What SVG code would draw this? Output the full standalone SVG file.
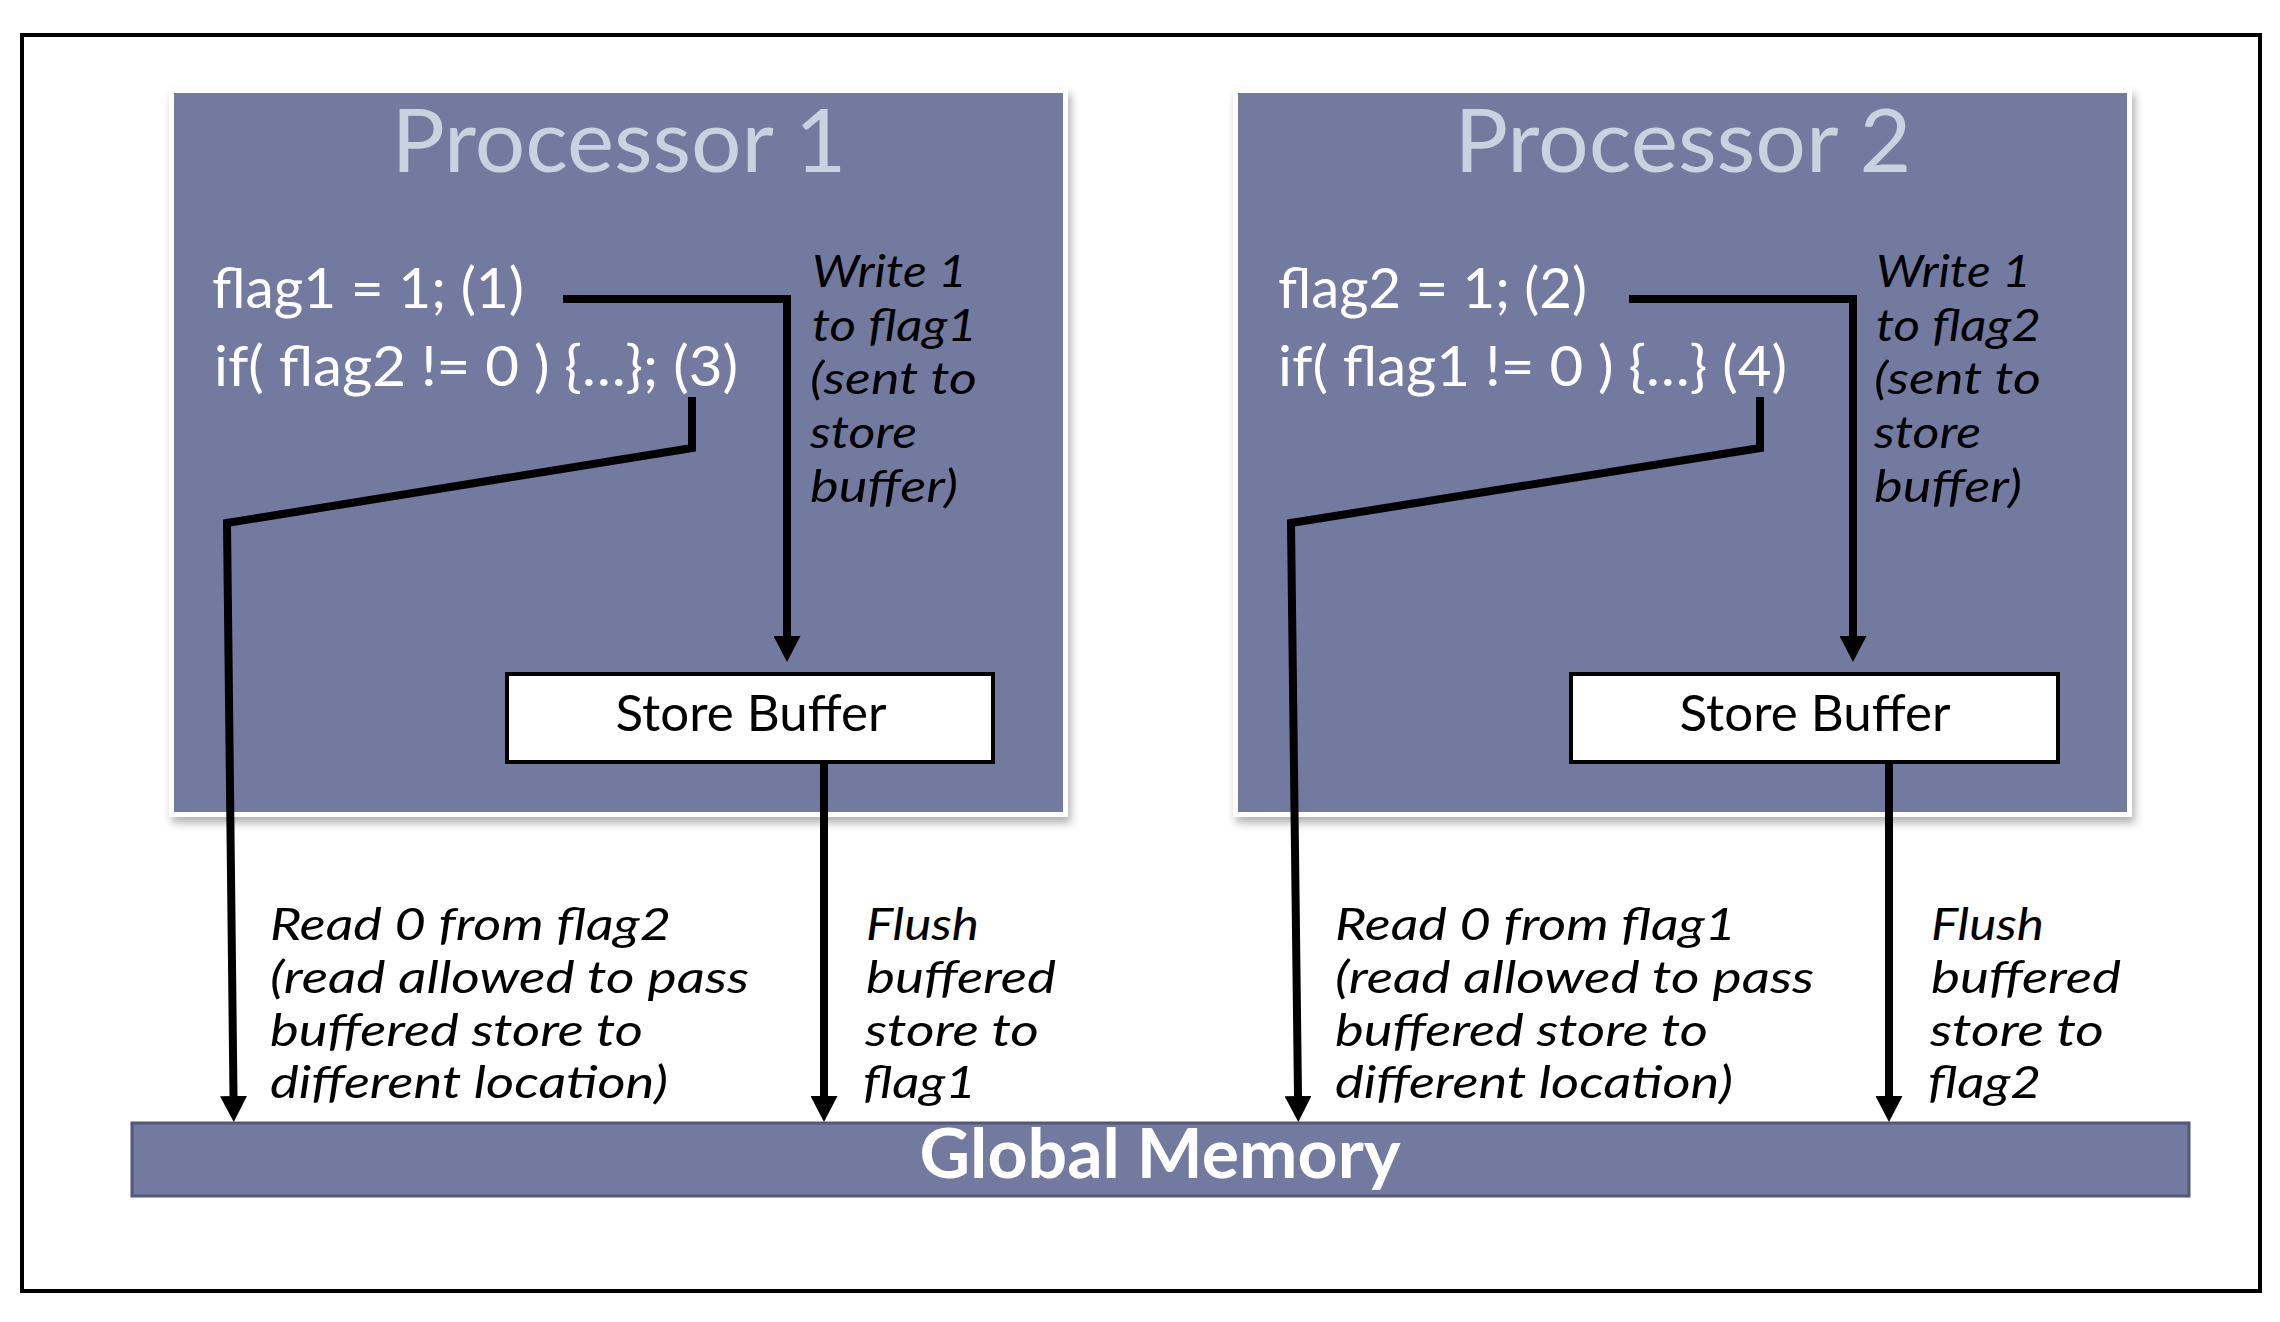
<svg xmlns="http://www.w3.org/2000/svg" width="2280" height="1322" viewBox="0 0 2280 1322">
<style>
.proc{fill:#727A9F;stroke:#ffffff;stroke-width:5}
.title{font-family:Lato,"Open Sans",sans-serif;font-size:87px;fill:#C9D3DF;text-anchor:middle}
.code{font-family:Lato,"Open Sans",sans-serif;font-size:57px;fill:#ffffff}
.sb{fill:#ffffff;stroke:#000000;stroke-width:4}
.sbt{font-family:Lato,"Open Sans",sans-serif;font-size:50px;fill:#000000;text-anchor:middle}
.lbl{font-family:Lato,"Open Sans",sans-serif;font-size:44px;font-style:italic;fill:#000000}
.mem{fill:#727A9F;stroke:#525878;stroke-width:3}
.memt{font-family:Lato,"Open Sans",sans-serif;font-size:69px;font-weight:bold;fill:#ffffff;text-anchor:middle}
.conn{fill:none;stroke:#000000;stroke-width:8;stroke-linejoin:miter;stroke-linecap:butt;marker-end:url(#ah)}
</style>
<defs>
<marker id="ah" viewBox="0 0 26 27" refX="0" refY="13.5" markerWidth="26" markerHeight="27" markerUnits="userSpaceOnUse" orient="auto">
<path d="M0,0 L26,13.5 L0,27 z" fill="#000000"/>
</marker>
<filter id="sh" x="-5%" y="-5%" width="110%" height="110%">
<feDropShadow dx="3" dy="6" stdDeviation="4" flood-color="#000000" flood-opacity="0.3"/>
</filter>
</defs>
<rect x="0" y="0" width="2280" height="1322" fill="#ffffff"/>
<rect id="frame" x="22" y="35" width="2238" height="1256" fill="none" stroke="#000000" stroke-width="4"/>

<g id="processor1">
<rect class="proc" x="171.5" y="90.5" width="894" height="724" filter="url(#sh)"/>
<text class="title" x="619" y="172" textLength="455" lengthAdjust="spacingAndGlyphs">Processor 1</text>
<text class="code" x="212" y="308" textLength="312" lengthAdjust="spacingAndGlyphs">flag1 = 1; (1)</text>
<text class="code" x="214" y="386" textLength="524" lengthAdjust="spacingAndGlyphs">if( flag2 != 0 ) {…}; (3)</text>
<text class="lbl" x="812" y="287" textLength="155" lengthAdjust="spacingAndGlyphs">Write 1</text>
<text class="lbl" x="812" y="341" textLength="165" lengthAdjust="spacingAndGlyphs">to flag1</text>
<text class="lbl" x="810" y="394" textLength="167" lengthAdjust="spacingAndGlyphs">(sent to</text>
<text class="lbl" x="810" y="448" textLength="107" lengthAdjust="spacingAndGlyphs">store</text>
<text class="lbl" x="810" y="502" textLength="148" lengthAdjust="spacingAndGlyphs">buffer)</text>
</g>
<g id="storebuffer1">
<rect class="sb" x="507" y="674" width="486" height="88"/>
<text class="sbt" x="751" y="731" textLength="271" lengthAdjust="spacingAndGlyphs">Store Buffer</text>
</g>

<g id="processor2">
<rect class="proc" x="1235.5" y="90.5" width="894" height="724" filter="url(#sh)"/>
<text class="title" x="1683" y="172" textLength="457" lengthAdjust="spacingAndGlyphs">Processor 2</text>
<text class="code" x="1278" y="308" textLength="309" lengthAdjust="spacingAndGlyphs">flag2 = 1; (2)</text>
<text class="code" x="1278" y="386" textLength="509" lengthAdjust="spacingAndGlyphs">if( flag1 != 0 ) {…} (4)</text>
<text class="lbl" x="1876" y="287" textLength="155" lengthAdjust="spacingAndGlyphs">Write 1</text>
<text class="lbl" x="1876" y="341" textLength="165" lengthAdjust="spacingAndGlyphs">to flag2</text>
<text class="lbl" x="1874" y="394" textLength="167" lengthAdjust="spacingAndGlyphs">(sent to</text>
<text class="lbl" x="1874" y="448" textLength="107" lengthAdjust="spacingAndGlyphs">store</text>
<text class="lbl" x="1874" y="502" textLength="148" lengthAdjust="spacingAndGlyphs">buffer)</text>
</g>
<g id="storebuffer2">
<rect class="sb" x="1571" y="674" width="487" height="88"/>
<text class="sbt" x="1815" y="731" textLength="271" lengthAdjust="spacingAndGlyphs">Store Buffer</text>
</g>

<g id="globalmemory">
<rect class="mem" x="132" y="1123" width="2057" height="73"/>
<text class="memt" x="1160" y="1178" textLength="481" lengthAdjust="spacingAndGlyphs">Global Memory</text>
</g>

<g id="labels">
<text class="lbl" x="270" y="940" textLength="401" lengthAdjust="spacingAndGlyphs">Read 0 from flag2</text>
<text class="lbl" x="270" y="993" textLength="479" lengthAdjust="spacingAndGlyphs">(read allowed to pass</text>
<text class="lbl" x="270" y="1046" textLength="373" lengthAdjust="spacingAndGlyphs">buffered store to</text>
<text class="lbl" x="270" y="1098" textLength="398" lengthAdjust="spacingAndGlyphs">different location)</text>
<text class="lbl" x="866" y="940" textLength="113" lengthAdjust="spacingAndGlyphs">Flush</text>
<text class="lbl" x="866" y="993" textLength="190" lengthAdjust="spacingAndGlyphs">buffered</text>
<text class="lbl" x="865" y="1046" textLength="174" lengthAdjust="spacingAndGlyphs">store to</text>
<text class="lbl" x="863" y="1098" textLength="113" lengthAdjust="spacingAndGlyphs">flag1</text>
<text class="lbl" x="1335" y="940" textLength="401" lengthAdjust="spacingAndGlyphs">Read 0 from flag1</text>
<text class="lbl" x="1335" y="993" textLength="479" lengthAdjust="spacingAndGlyphs">(read allowed to pass</text>
<text class="lbl" x="1335" y="1046" textLength="373" lengthAdjust="spacingAndGlyphs">buffered store to</text>
<text class="lbl" x="1335" y="1098" textLength="398" lengthAdjust="spacingAndGlyphs">different location)</text>
<text class="lbl" x="1931" y="940" textLength="113" lengthAdjust="spacingAndGlyphs">Flush</text>
<text class="lbl" x="1931" y="993" textLength="190" lengthAdjust="spacingAndGlyphs">buffered</text>
<text class="lbl" x="1930" y="1046" textLength="174" lengthAdjust="spacingAndGlyphs">store to</text>
<text class="lbl" x="1928" y="1098" textLength="113" lengthAdjust="spacingAndGlyphs">flag2</text>
</g>

<g id="connectors">
<path class="conn" d="M563,299 H787 V636"/>
<path class="conn" d="M692,397 V448 L227,523 L233.5,1096"/>
<path class="conn" d="M824,762 V1096"/>
<path class="conn" d="M1629,299 H1853 V636"/>
<path class="conn" d="M1760,397 V448 L1291,523 L1298,1096"/>
<path class="conn" d="M1889,762 V1096"/>
</g>
</svg>
